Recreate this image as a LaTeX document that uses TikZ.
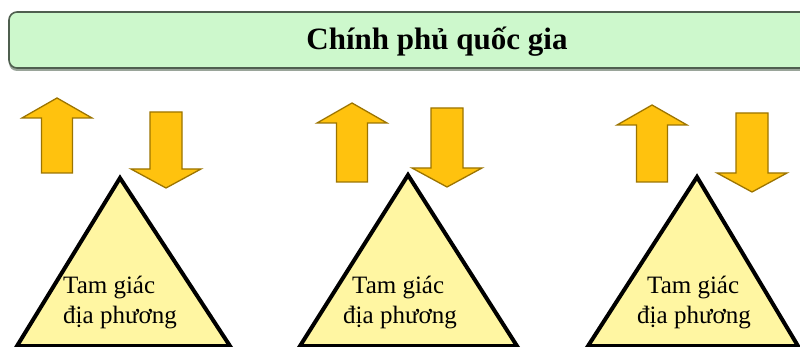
\documentclass[tikz,border=0pt]{standalone}
\usepackage{fontspec}
\setmainfont{Liberation Serif}
\definecolor{boxfill}{HTML}{CDF8CC}
\definecolor{boxline}{HTML}{4F5F4F}
\definecolor{boxshadow}{HTML}{9AA59A}
\definecolor{arrowfill}{HTML}{FFC20E}
\definecolor{arrowline}{HTML}{9C7400}
\definecolor{trifill}{HTML}{FFF6A2}
\begin{document}
\begin{tikzpicture}[x=1pt,y=-1pt,
  govbox/.style={draw=boxline,line width=1.6pt,fill=boxfill,rounded corners=8pt},
  govshadow/.style={fill=boxshadow,rounded corners=8pt},
  bigarrow/.style={draw=arrowline,line width=1.3pt,fill=arrowfill,line join=miter},
  localtri/.style={draw=black,line width=4pt,fill=trifill,line join=miter},
  titletext/.style={font=\fontsize{31}{36}\selectfont\bfseries,anchor=base},
  tritext/.style={font=\fontsize{25}{30}\selectfont,anchor=base west,inner sep=0pt}]
\useasboundingbox (0,0) rectangle (800,347);
\fill[white] (0,0) rectangle (800,347);
\begin{scope}
  \clip (0,0) rectangle (800,347);
  % national government box
  \fill[govshadow] (9,14) rectangle (812,71);
  \draw[govbox] (9,12) rectangle (810,68);
  \node[titletext] (gov) at (437,50) {Chính phủ quốc gia};
  % triangles
  \foreach \ax/\ay/\l/\r in {120/178/17/230, 408/175/300/517, 697/177/588/798}{
    \draw[localtri] (\ax,\ay) -- (\r,346) -- (\l,346) -- cycle;
  }
  % up arrows
  \foreach \cx/\t/\b in {57/98/173, 352/103/182, 652/105/182}{
    \draw[bigarrow] (\cx,\t) -- (\cx+35,\t+20) -- (\cx+15.5,\t+20) -- (\cx+15.5,\b)
      -- (\cx-15.5,\b) -- (\cx-15.5,\t+20) -- (\cx-35,\t+20) -- cycle;
  }
  % down arrows
  \foreach \cx/\t/\b in {166/112/188, 447/108/187, 752/113/192}{
    \draw[bigarrow] (\cx,\b) -- (\cx+35,\b-19) -- (\cx+16,\b-19) -- (\cx+16,\t)
      -- (\cx-16,\t) -- (\cx-16,\b-19) -- (\cx-35,\b-19) -- cycle;
  }
  % texts
  \node[tritext] (t1a) at (63,293) {Tam giác};
  \node[tritext] (t1b) at (63,323) {địa phương};
  \node[tritext] (t2a) at (352,293) {Tam giác};
  \node[tritext] (t2b) at (343,323) {địa phương};
  \node[tritext] (t3a) at (647,293) {Tam giác};
  \node[tritext] (t3b) at (637,323) {địa phương};
\end{scope}
\end{tikzpicture}
\end{document}
